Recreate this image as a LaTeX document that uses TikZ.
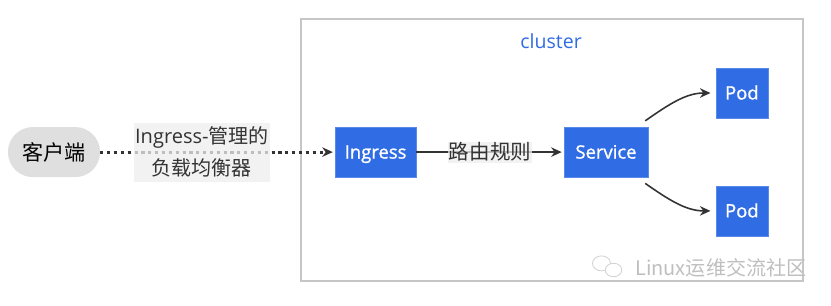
\documentclass[tikz,border=0pt]{standalone}
\usepackage{fontspec}
\setmainfont{Open Sans}
\newfontfamily\cjk{Noto Sans CJK SC}
\newfontfamily\boxfont[FakeBold=1.2]{Open Sans}
\usepackage{tikz}
\usetikzlibrary{arrows.meta,positioning,shapes.geometric}
\usepackage{xcolor}
\definecolor{k8blue}{HTML}{306CE4}
\definecolor{edge}{HTML}{333333}

\begin{document}
\begin{tikzpicture}[
    k8s/.style={draw=k8blue!80!white,fill=k8blue,minimum height=1.67cm,align=center,text=white,text height=13pt,text depth=0.7pt,font=\fontsize{17.5}{20}\boxfont},
    client/.style={fill=gray!25,rounded corners=0.83cm,minimum width=3.07cm,minimum height=1.67cm,font=\fontsize{20}{24}\cjk},
    elabel/.style={fill=gray!14,fill opacity=0.75,text opacity=1,inner sep=1pt,align=center,text=edge,font=\fontsize{19}{30}\selectfont},
    arrow/.style={-{Stealth[length=10pt,width=9pt]},line width=1.5pt,color=edge},
]
\useasboundingbox (0,0) rectangle (27.7,-10.17);
\node[draw=gray!45,line width=1.8pt,minimum width=16.73cm,minimum height=8.73cm](cluster)at(18.4,-5.0){};
\node[text=k8blue,font=\fontsize{18.5}{22}\selectfont](cname)at(18.37,-1.37){cluster};
\node[client](client)at(1.8,-5.07){客户端};
\node[k8s,minimum width=2.7cm](ing)at(12.52,-5.07){Ingress};
\node[k8s,minimum width=2.8cm](svc)at(20.2,-5.07){Service};
\node[k8s,minimum width=1.73cm](pod1)at(24.73,-3.1){Pod};
\node[k8s,minimum width=1.73cm](pod2)at(24.73,-7.03){Pod};
\draw[arrow,line width=3pt,dash pattern=on 3pt off 3.5pt,shorten >=2pt](client.east)--(ing.west);
\node[elabel,minimum width=4.5cm,minimum height=1.97cm](lb)at(6.73,-5.07){Ingress-{\cjk 管理的}\\{\cjk 负载均衡器}};
\draw[arrow,shorten >=2pt](ing.east)--(svc.west)node[elabel,midway,font=\fontsize{19.5}{22}\cjk](route){路由规则};
\draw[arrow,shorten >=5pt]([xshift=-0.1cm,yshift=0.2cm]svc.north east)to[out=35,in=180](pod1.west);
\draw[arrow,shorten >=5pt]([xshift=-0.1cm,yshift=-0.2cm]svc.south east)to[out=-35,in=180](pod2.west);
% watermark
\node[ellipse,draw=gray!35,minimum width=0.6cm,minimum height=0.5cm,line width=0.8pt](wc1)at(20.05,-8.78){};
\node[ellipse,draw=gray!35,fill=white,minimum width=0.55cm,minimum height=0.45cm,line width=0.8pt](wc2)at(20.45,-9.0){};
\node[text=gray!50,font=\fontsize{19}{22}\cjk,anchor=west](wm)at(21.05,-8.93){Linux运维交流社区};
\end{tikzpicture}
\end{document}
